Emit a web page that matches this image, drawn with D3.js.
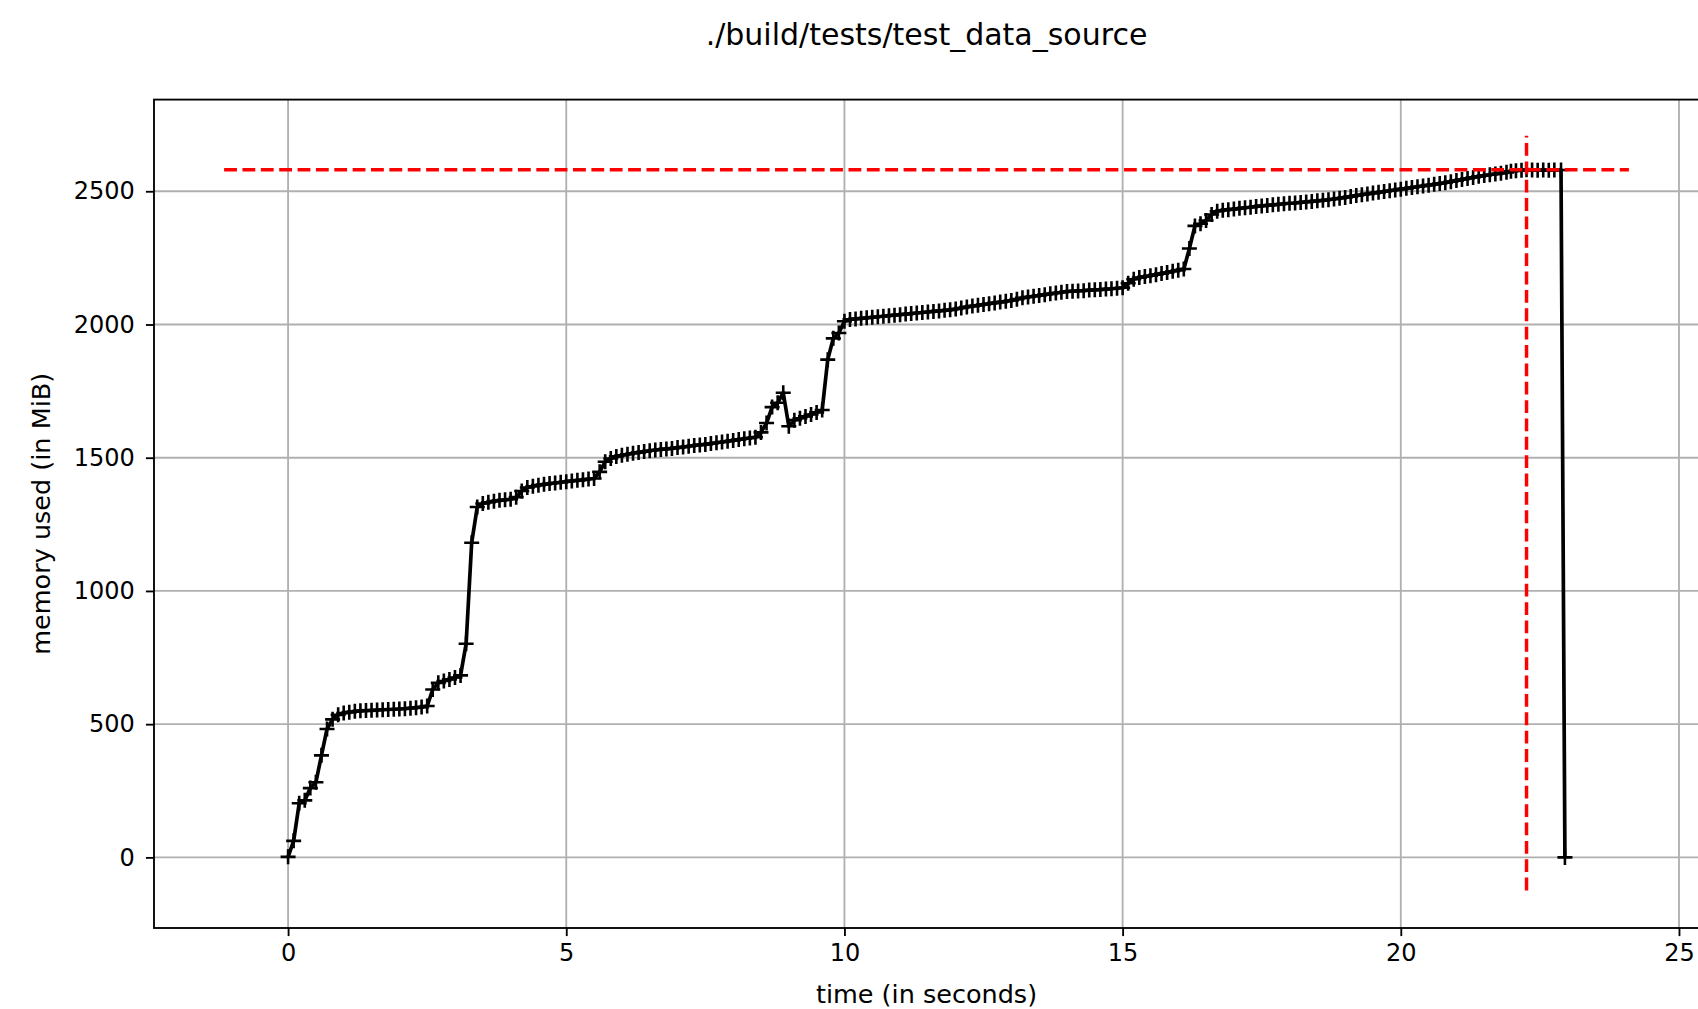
<!DOCTYPE html>
<html>
<head>
<meta charset="utf-8">
<script src="https://cdn.jsdelivr.net/npm/d3@7"></script>
<style>
  body { margin: 0; background: #fff; }
  svg { display: block; font-family: "DejaVu Sans", sans-serif; }
  .tick text { fill: #000; }
</style>
</head>
<body>
<div id="chart"></div>
<script>
// sample times (s) and memory (MiB)
var time = [
  0.0, 0.1, 0.2, 0.3, 0.4, 0.5, 0.6, 0.7, 0.8, 0.9,
  1.0, 1.1, 1.2, 1.3, 1.4, 1.5, 1.6, 1.7, 1.8, 1.9,
  2.0, 2.1, 2.2, 2.3, 2.4, 2.5, 2.6, 2.7, 2.8, 2.9,
  3.0, 3.1, 3.2, 3.3, 3.4, 3.5, 3.6, 3.7, 3.8, 3.9,
  4.0, 4.1, 4.2, 4.3, 4.4, 4.5, 4.6, 4.7, 4.8, 4.9,
  5.0, 5.1, 5.2, 5.3, 5.4, 5.5, 5.6, 5.7, 5.8, 5.9,
  6.0, 6.1, 6.2, 6.3, 6.4, 6.5, 6.6, 6.7, 6.8, 6.9,
  7.0, 7.1, 7.2, 7.3, 7.4, 7.5, 7.6, 7.7, 7.8, 7.9,
  8.0, 8.1, 8.2, 8.3, 8.4, 8.5, 8.6, 8.7, 8.8, 8.9,
  9.0, 9.1, 9.2, 9.3, 9.4, 9.5, 9.6, 9.7, 9.8, 9.9,
  10.0, 10.1, 10.2, 10.3, 10.4, 10.5, 10.6, 10.7, 10.8, 10.9,
  11.0, 11.1, 11.2, 11.3, 11.4, 11.5, 11.6, 11.7, 11.8, 11.9,
  12.0, 12.1, 12.2, 12.3, 12.4, 12.5, 12.6, 12.7, 12.8, 12.9,
  13.0, 13.1, 13.2, 13.3, 13.4, 13.5, 13.6, 13.7, 13.8, 13.9,
  14.0, 14.1, 14.2, 14.3, 14.4, 14.5, 14.6, 14.7, 14.8, 14.9,
  15.0, 15.1, 15.2, 15.3, 15.4, 15.5, 15.6, 15.7, 15.8, 15.9,
  16.0, 16.1, 16.2, 16.3, 16.4, 16.5, 16.6, 16.7, 16.8, 16.9,
  17.0, 17.1, 17.2, 17.3, 17.4, 17.5, 17.6, 17.7, 17.8, 17.9,
  18.0, 18.1, 18.2, 18.3, 18.4, 18.5, 18.6, 18.7, 18.8, 18.9,
  19.0, 19.1, 19.2, 19.3, 19.4, 19.5, 19.6, 19.7, 19.8, 19.9,
  20.0, 20.1, 20.2, 20.3, 20.4, 20.5, 20.6, 20.7, 20.8, 20.9,
  21.0, 21.1, 21.2, 21.3, 21.4, 21.5, 21.6, 21.7, 21.8, 21.9,
  21.98, 22.07, 22.17, 22.26, 22.36, 22.46, 22.56, 22.66, 22.76, 22.88,
  22.95
];

var memory = [
  2, 62, 203, 214, 260, 282, 383, 482, 518, 535,
  542, 545, 548, 550, 551, 552, 553, 554, 555, 556,
  557, 558, 560, 562, 564, 568, 630, 655, 662, 668,
  675, 683, 802, 1181, 1315, 1328, 1333, 1337, 1340, 1342,
  1344, 1352, 1375, 1388, 1393, 1397, 1400, 1403, 1405, 1408,
  1410, 1413, 1415, 1417, 1420, 1422, 1447, 1485, 1497, 1505,
  1509, 1513, 1517, 1520, 1523, 1526, 1529, 1531, 1533, 1535,
  1538, 1540, 1543, 1546, 1548, 1550, 1553, 1556, 1559, 1562,
  1565, 1568, 1571, 1574, 1577, 1595, 1630, 1690, 1706, 1744,
  1618, 1641, 1648, 1655, 1662, 1670, 1679, 1868, 1948, 1968,
  2012, 2019, 2021, 2023, 2025, 2027, 2029, 2031, 2033, 2035,
  2037, 2039, 2041, 2043, 2045, 2047, 2049, 2051, 2053, 2055,
  2058, 2062, 2066, 2069, 2072, 2075, 2078, 2081, 2084, 2087,
  2090, 2095, 2100, 2103, 2106, 2109, 2112, 2115, 2118, 2121,
  2124, 2125, 2126, 2127, 2129, 2130, 2131, 2133, 2134, 2136,
  2138, 2155, 2170, 2176, 2180, 2183, 2187, 2191, 2195, 2200,
  2204, 2208, 2285, 2370, 2378, 2390, 2413, 2425, 2429, 2431,
  2433, 2436, 2438, 2440, 2443, 2445, 2447, 2449, 2451, 2453,
  2455, 2456, 2458, 2460, 2462, 2464, 2466, 2468, 2471, 2474,
  2477, 2480, 2484, 2487, 2490, 2493, 2496, 2499, 2502, 2505,
  2508, 2511, 2514, 2517, 2520, 2523, 2526, 2529, 2532, 2536,
  2540, 2544, 2548, 2552, 2556, 2559, 2562, 2565, 2568, 2571,
  2575, 2577, 2579, 2581, 2580, 2579, 2580, 2579, 2580, 2580,
  0
];

var xTicks = [0, 5, 10, 15, 20, 25];
var yTicks = [0, 500, 1000, 1500, 2000, 2500];

var titleText = "./build/tests/test_data_source",
    xLabelText = "time (in seconds)",
    yLabelText = "memory used (in MiB)";

(function () {
    "use strict";

    var width = 1698,
        height = 1009,
        left = 154,
        right = 1699,
        top = 99.6,
        bottom = 928,
        pt = 2.31; // px per point

    var data = time.map(function (t, i) { return {t: t, v: memory[i]}; });

    // limits before the peak lines were added (data + 5% margin), then final limits
    var innerX = [-1.15, 24.1],
        innerY = [-124, 2708],
        xLim = [-2.41, 25.36],
        yLim = [-265, 2844];

    var xScale = d3.scaleLinear().domain(xLim).range([left, right]);
    var yScale = d3.scaleLinear().domain(yLim).range([bottom, top]);

    var svg = d3.select("#chart").append("svg")
        .attr("width", width)
        .attr("height", height);

    svg.append("defs").append("clipPath").attr("id", "plotClip")
        .append("rect")
        .attr("x", left).attr("y", top)
        .attr("width", right - left).attr("height", bottom - top);

    //Grid
    var grid = svg.append("g").attr("class", "grid");
    grid.selectAll("line.gx").data(xTicks).enter().append("line")
        .attr("x1", function (d) { return xScale(d); })
        .attr("x2", function (d) { return xScale(d); })
        .attr("y1", top).attr("y2", bottom)
        .attr("stroke", "#b0b0b0").attr("stroke-width", 0.8 * pt);
    grid.selectAll("line.gy").data(yTicks).enter().append("line")
        .attr("y1", function (d) { return yScale(d); })
        .attr("y2", function (d) { return yScale(d); })
        .attr("x1", left).attr("x2", right)
        .attr("stroke", "#b0b0b0").attr("stroke-width", 0.8 * pt);

    var plot = svg.append("g").attr("clip-path", "url(#plotClip)");

    //Memory line
    var line = d3.line()
        .x(function (d) { return xScale(d.t); })
        .y(function (d) { return yScale(d.v); });

    plot.append("path")
        .datum(data)
        .attr("d", line)
        .attr("fill", "none")
        .attr("stroke", "#000")
        .attr("stroke-width", 1.6 * pt)
        .attr("stroke-linejoin", "round");

    //'+' markers
    var ms = 7.5;
    plot.selectAll("path.marker").data(data).enter().append("path")
        .attr("class", "marker")
        .attr("transform", function (d) { return "translate(" + xScale(d.t) + "," + yScale(d.v) + ")"; })
        .attr("d", "M" + (-ms) + ",0H" + ms + "M0," + (-ms) + "V" + ms)
        .attr("stroke", "#000")
        .attr("stroke-width", 2.6)
        .attr("fill", "none");

    //Peak lines
    var peakIdx = d3.maxIndex(memory),
        peakMem = memory[peakIdx],
        peakTime = time[peakIdx],
        dash = (3.7 * 1.5 * pt) + "," + (1.6 * 1.5 * pt);

    plot.append("line")
        .attr("x1", xScale(peakTime)).attr("x2", xScale(peakTime))
        .attr("y1", yScale(innerY[0])).attr("y2", yScale(innerY[1]))
        .attr("stroke", "#ff0000").attr("stroke-width", 1.5 * pt)
        .attr("stroke-dasharray", dash);
    plot.append("line")
        .attr("x1", xScale(innerX[0])).attr("x2", xScale(innerX[1]))
        .attr("y1", yScale(peakMem)).attr("y2", yScale(peakMem))
        .attr("stroke", "#ff0000").attr("stroke-width", 1.5 * pt)
        .attr("stroke-dasharray", dash);

    //Axes
    var xAxis = svg.append("g")
        .attr("transform", "translate(0," + bottom + ")")
        .call(d3.axisBottom(xScale).tickValues(xTicks).tickSize(3.5 * pt).tickPadding(3.5 * pt).tickFormat(d3.format("d")));
    var yAxis = svg.append("g")
        .attr("transform", "translate(" + left + ",0)")
        .call(d3.axisLeft(yScale).tickValues(yTicks).tickSize(3.5 * pt).tickPadding(3.5 * pt + 3).tickFormat(d3.format("d")));

    [xAxis, yAxis].forEach(function (ax) {
        ax.select(".domain").remove();
        ax.selectAll(".tick line").attr("stroke", "#000").attr("stroke-width", 0.8 * pt);
        ax.selectAll(".tick text").attr("font-family", "DejaVu Sans").attr("font-size", 24);
    });

    //Spines
    svg.append("rect")
        .attr("x", left).attr("y", top)
        .attr("width", right - left).attr("height", bottom - top)
        .attr("fill", "none").attr("stroke", "#000").attr("stroke-width", 0.8 * pt);

    //Labels
    svg.append("text")
        .attr("x", (left + right) / 2).attr("y", 45)
        .attr("text-anchor", "middle")
        .attr("font-size", 30)
        .text(titleText);

    svg.append("text")
        .attr("x", (left + right) / 2).attr("y", 1003)
        .attr("text-anchor", "middle")
        .attr("font-size", 25.5)
        .text(xLabelText);

    svg.append("text")
        .attr("transform", "translate(50," + ((top + bottom) / 2) + ") rotate(-90)")
        .attr("text-anchor", "middle")
        .attr("font-size", 25.5)
        .text(yLabelText);
})();
</script>
</body>
</html>
